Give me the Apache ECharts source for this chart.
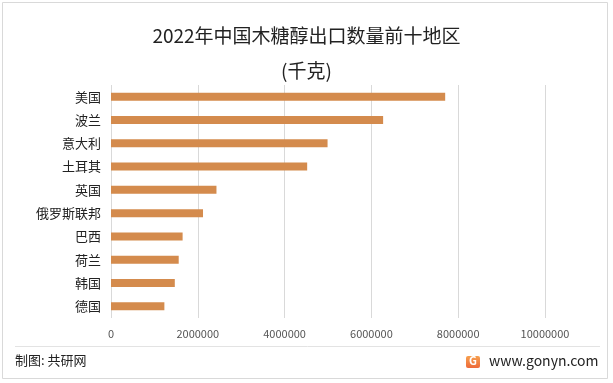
<!DOCTYPE html>
<html><head><meta charset="utf-8">
<script src="https://cdn.jsdelivr.net/npm/echarts@6/dist/echarts.min.js"></script>
<style>html,body{margin:0;padding:0;background:#fff}#c{width:613px;height:383px}</style>
</head><body><div id="c"></div>
<script>
const categories = ['美国','波兰','意大利','土耳其','英国','俄罗斯联邦','巴西','荷兰','韩国','德国'];
const values = [7700000, 6270000, 4990000, 4520000, 2430000, 2120000, 1650000, 1560000, 1470000, 1230000];
const xTicks = [0, 2000000, 4000000, 6000000, 8000000, 10000000];

const chart = echarts.init(document.getElementById('c'));
const font = '"Noto Sans CJK SC", "Noto Sans", sans-serif';
chart.setOption({
  animation: false,
  backgroundColor: '#fff',
  title: {
    text: '2022年中国木糖醇出口数量前十地区\n(千克)',
    left: 'center', top: 13,
    textStyle: {fontFamily: font, fontSize: 19, fontWeight: 'normal', color: '#222', lineHeight: 35}
  },
  grid: {left: 111, right: 68, top: 85, bottom: 65},
  xAxis: {
    type: 'value', min: xTicks[0], max: xTicks[xTicks.length-1], interval: 2000000,
    axisLine: {show: false}, axisTick: {show: false},
    splitLine: {lineStyle: {color: '#d9d9d9', width: 1}},
    axisLabel: {fontFamily: font, fontSize: 11, color: '#555', margin: 10, formatter: v => String(v)}
  },
  yAxis: {
    type: 'category', data: categories.slice().reverse(),
    axisLine: {show: false}, axisTick: {show: false},
    axisLabel: {fontFamily: font, fontSize: 13, color: '#222', margin: 10}
  },
  series: [{
    type: 'bar', data: values.slice().reverse(), barWidth: 8,
    itemStyle: {color: '#D48B4D'}
  }],
  graphic: [
    {type: 'rect', shape: {x: 2.5, y: 2.5, width: 605, height: 376}, style: {fill: 'none', stroke: '#d9d9d9', lineWidth: 1}},
    {type: 'line', shape: {x1: 15, y1: 346.5, x2: 600, y2: 346.5}, style: {stroke: '#e3e3e3', lineWidth: 1}},
    {type: 'text', left: 15, top: 354, style: {text: '制图: 共研网', font: '13px ' + font, fill: '#222'}},
    {type: 'rect', shape: {x: 466, y: 356, width: 14, height: 12, r: 2},
      style: {fill: new echarts.graphic.LinearGradient(0, 0, 0, 1, [{offset: 0, color: '#F6A04E'}, {offset: 1, color: '#EE6A3A'}])}},
    {type: 'text', left: 469, top: 355, style: {text: 'G', font: 'bold 11px ' + font, fill: '#fff'}},
    {type: 'text', left: 489, top: 354, style: {text: 'www.gonyn.com', font: '14px ' + font, fill: '#222'}}
  ]
});
</script></body></html>
